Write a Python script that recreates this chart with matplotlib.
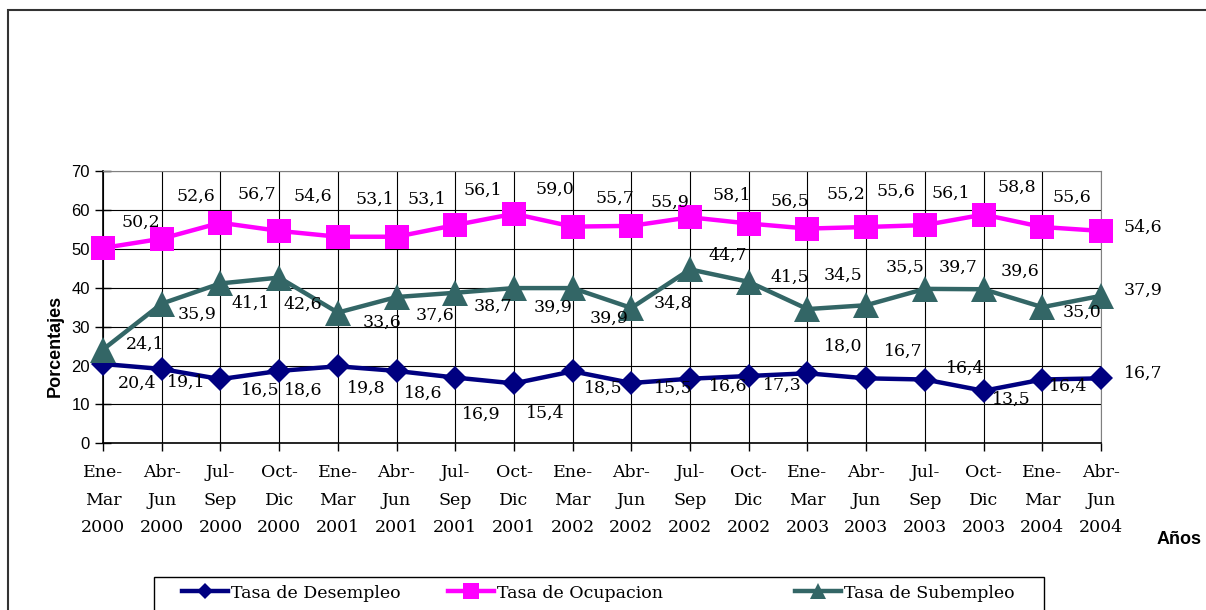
import matplotlib
matplotlib.use("Agg")
import matplotlib.pyplot as plt
from matplotlib.patches import Rectangle

# datos por trimestre
periodos = ["Ene-Mar", "Abr-Jun", "Jul-Sep", "Oct-Dic"] * 4 + ["Ene-Mar", "Abr-Jun"]
anios = ["2000"] * 4 + ["2001"] * 4 + ["2002"] * 4 + ["2003"] * 4 + ["2004"] * 2

desempleo = [20.4, 19.1, 16.5, 18.6, 19.8, 18.6, 16.9, 15.4, 18.5,
             15.5, 16.6, 17.3, 18.0, 16.7, 16.4, 13.5, 16.4, 16.7]
ocupacion = [50.2, 52.6, 56.7, 54.6, 53.1, 53.1, 56.1, 59.0, 55.7,
             55.9, 58.1, 56.5, 55.2, 55.6, 56.1, 58.8, 55.6, 54.6]
subempleo = [24.1, 35.9, 41.1, 42.6, 33.6, 37.6, 38.7, 39.9, 39.9,
             34.8, 44.7, 41.5, 34.5, 35.5, 39.7, 39.6, 35.0, 37.9]

# desplazamiento de las etiquetas (pixeles, x derecha / y abajo)
off_desempleo = [(34, 19), (25, 13), (40, 11), (24, 19), (28, 22), (27, 22), (26, 37), (31, 30), (31, 17),
                 (42, 5), (38, 8), (34, 9), (36, -27), (37, -27), (40, -11), (28, 9), (26, 7), (42, -5)]
off_ocupacion = [(38, -26), (34, -42), (36, -28), (34, -35), (37, -37), (30, -37), (28, -35), (41, -24), (42, -28),
                 (39, -24), (42, -22), (41, -22), (38, -34), (30, -36), (26, -32), (33, -27), (30, -30), (42, -4)]
off_subempleo = [(42, -5), (35, 11), (30, 20), (24, 27), (44, 10), (38, 18), (38, 14), (39, 19), (36, 30),
                 (42, -5), (38, -14), (41, -5), (36, -34), (39, -38), (33, -22), (36, -18), (40, 5), (42, -6)]

serif = "DejaVu Serif"
sans = "Liberation Sans"

fig = plt.figure(figsize=(12.06, 6.10), dpi=100)
W, H = 1206, 610
ax = fig.add_axes([103 / W, 1 - 443.3 / H, (1101 - 103) / W, (443.3 - 171) / H])

x = list(range(len(periodos)))
series = [
    (desempleo, "Tasa de Desempleo", "#000080", "D", 12.5, off_desempleo),
    (ocupacion, "Tasa de Ocupacion", "#FF00FF", "s", 17.5, off_ocupacion),
    (subempleo, "Tasa de Subempleo", "#336666", "^", 18.5, off_subempleo),
]
handles = []
for valores, nombre, color, marca, tam, offs in series:
    ln, = ax.plot(x, valores, color=color, lw=3.2, marker=marca, markersize=tam,
                  markeredgewidth=0, label=nombre, clip_on=False, zorder=3)
    handles.append(ln)
    for xi, v, (dx, dy) in zip(x, valores, offs):
        ax.annotate(f"{v:.1f}".replace(".", ","), (xi, v), xytext=(dx, -dy),
                    textcoords="offset pixels", ha="center", va="center",
                    fontsize=12.5, family=serif, color="black", zorder=4)

ax.set_xlim(0, len(x) - 1)
ax.set_ylim(0, 70)
ax.set_yticks(range(0, 71, 10))
ax.set_xticks(x)
ax.set_xticklabels([p.replace("-", "-\n") + "\n" + a for p, a in zip(periodos, anios)],
                   family=serif, fontsize=12.5, linespacing=1.8)
for t in ax.get_yticklabels():
    t.set_family(sans)
    t.set_fontsize(12)
ax.tick_params(axis="y", direction="inout", length=11, width=1, pad=4)
ax.tick_params(axis="x", direction="out", length=6, width=1, pad=9)
ax.grid(True, color="black", lw=0.8)
ax.set_axisbelow(True)
for s in ["top", "right"]:
    ax.spines[s].set_color("#808080")
for s in ["left", "bottom"]:
    ax.spines[s].set_color("black")
    ax.spines[s].set_linewidth(1.2)

fig.text(55 / W, 1 - 346 / H, "Porcentajes", rotation=90, ha="center", va="center",
         family=sans, fontweight="bold", fontsize=13)
fig.text(1179 / W, 1 - 540 / H, "Años", ha="center", va="center",
         family=sans, fontweight="bold", fontsize=13)

# marco exterior y caja de la leyenda
fig.patches.append(Rectangle((8 / W, -0.1), 1.2, 1 - 10 / H + 0.1, transform=fig.transFigure,
                             fill=False, edgecolor="#333333", lw=1.5))
fig.patches.append(Rectangle((154 / W, -0.1), (1044 - 154) / W, 1 - 577 / H + 0.1,
                             transform=fig.transFigure, fill=False, edgecolor="black", lw=1))
# una leyenda por serie, para colocar cada entrada como en el original
for h, xpos in zip(handles, [182, 448, 795]):
    fig.legend(handles=[h], loc="center left", bbox_to_anchor=(xpos / W, 1 - 593 / H),
               frameon=False, prop={"family": serif, "size": 12.5},
               markerscale=0.65, handlelength=2.65, handletextpad=0.15,
               borderpad=0, borderaxespad=0)

fig.savefig("out.png", dpi=100)
